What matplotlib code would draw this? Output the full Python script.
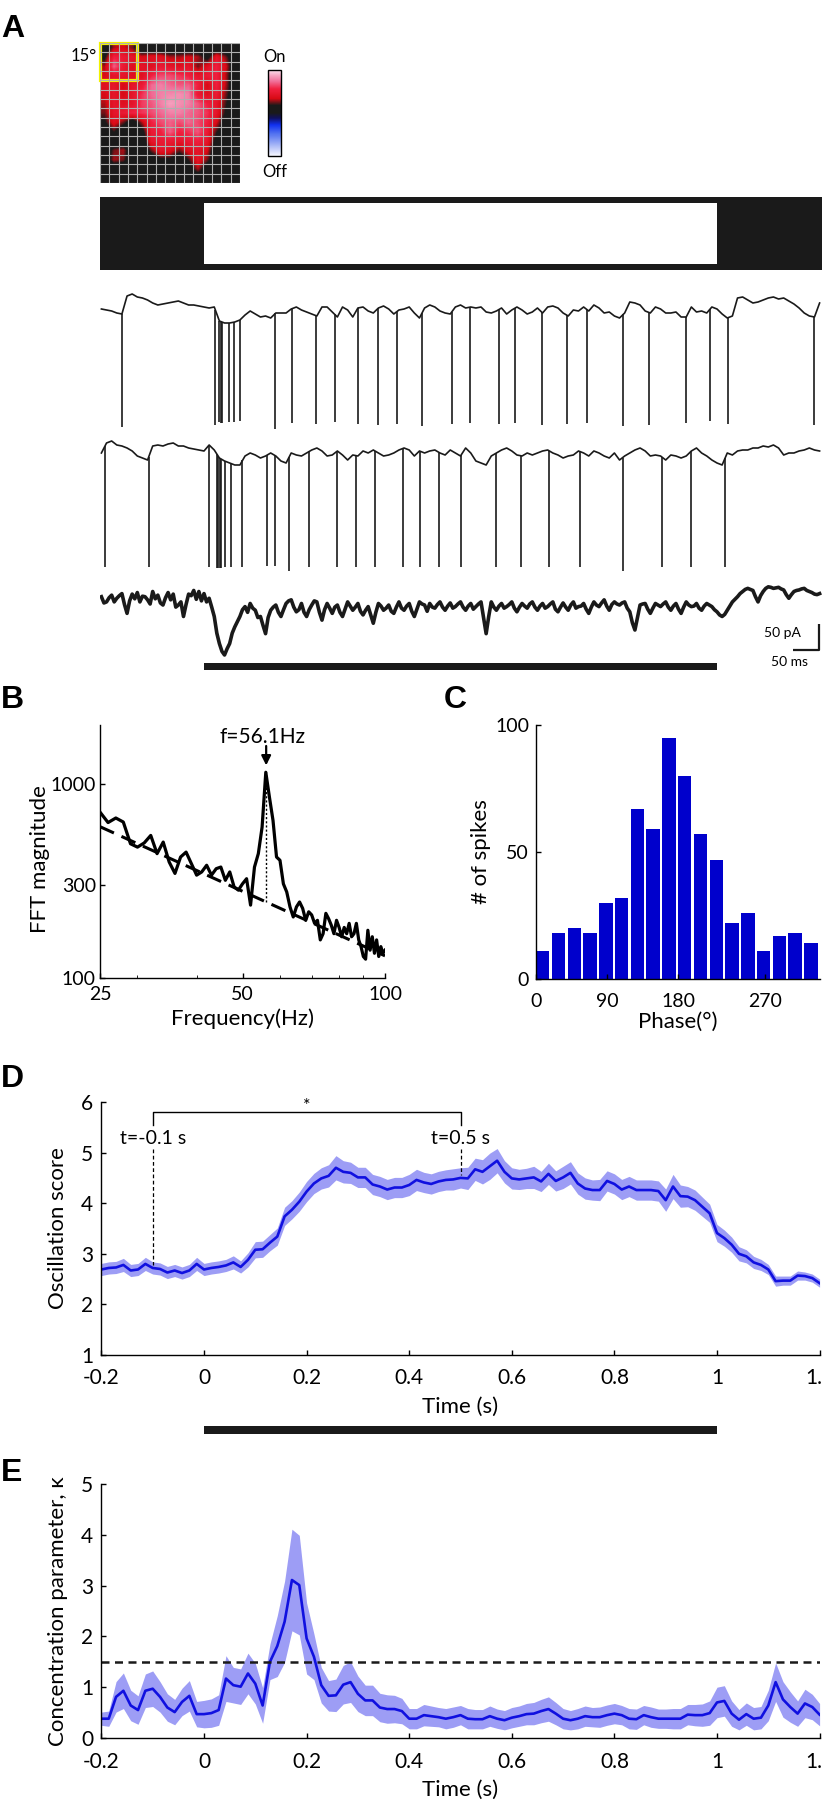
import numpy as np
import matplotlib
matplotlib.use("Agg")
import matplotlib.pyplot as plt
from matplotlib.colors import LinearSegmentedColormap
from matplotlib.patches import Rectangle
from matplotlib.ticker import NullFormatter, NullLocator

plt.rcParams['font.family'] = ['Lato', 'DejaVu Sans']
plt.rcParams['axes.linewidth'] = 1.0
plt.rcParams['xtick.direction'] = 'in'
plt.rcParams['ytick.direction'] = 'in'
plt.rcParams['xtick.major.size'] = 3.5
plt.rcParams['ytick.major.size'] = 3.5
plt.rcParams['xtick.minor.size'] = 2.5
plt.rcParams['xtick.major.width'] = 1.0
plt.rcParams['ytick.major.width'] = 1.0

# ---------------- data ----------------
# receptive field map (15 x 15 grid, 0 = no response, 1 = strongest On)
rf_map = np.array([
    [0, 0.3, 0.35, 0.25, 0, 0, 0, 0, 0, 0, 0, 0, 0, 0, 0],
    [0.15, 0.55, 0.5, 0.45, 0.35, 0.4, 0.4, 0.3, 0.3, 0.35, 0.3, 0.1, 0.45, 0.25, 0],
    [0.3, 0.7, 0.5, 0.4, 0.45, 0.4, 0.5, 0.45, 0.4, 0.45, 0.25, 0.4, 0.55, 0.35, 0],
    [0.35, 0.45, 0.45, 0.4, 0.4, 0.55, 0.65, 0.65, 0.6, 0.55, 0.45, 0.5, 0.55, 0.3, 0],
    [0.4, 0.45, 0.35, 0.45, 0.5, 0.72, 0.78, 0.72, 0.68, 0.7, 0.55, 0.35, 0.55, 0.3, 0],
    [0.35, 0.45, 0.35, 0.45, 0.6, 0.72, 0.78, 0.8, 0.82, 0.78, 0.5, 0.4, 0.5, 0.25, 0],
    [0.3, 0.45, 0.4, 0.45, 0.62, 0.68, 0.78, 0.86, 0.82, 0.78, 0.68, 0.55, 0.45, 0.2, 0],
    [0.25, 0.45, 0.5, 0.55, 0.6, 0.65, 0.72, 0.78, 0.78, 0.72, 0.68, 0.6, 0.45, 0.15, 0],
    [0.15, 0.4, 0.25, 0.05, 0.3, 0.55, 0.65, 0.7, 0.65, 0.72, 0.65, 0.55, 0.35, 0.05, 0],
    [0, 0.2, 0, 0, 0.1, 0.5, 0.55, 0.7, 0.55, 0.6, 0.68, 0.5, 0.2, 0, 0],
    [0, 0, 0, 0, 0, 0.45, 0.5, 0.5, 0.45, 0.5, 0.55, 0.45, 0.1, 0, 0],
    [0, 0.25, 0.3, 0, 0, 0.25, 0.45, 0.4, 0.25, 0.4, 0.45, 0.35, 0, 0, 0],
    [0, 0.3, 0.25, 0, 0, 0, 0.15, 0.15, 0, 0.2, 0.45, 0.25, 0, 0, 0],
    [0, 0, 0, 0, 0, 0, 0, 0, 0, 0.05, 0.3, 0.05, 0, 0, 0],
    [0, 0, 0, 0, 0, 0, 0, 0, 0, 0, 0, 0, 0, 0, 0],
])

# example recordings, sampled every 10 ms from -0.2 to 1.2 s
trace1 = [1, 0, -1, -3, -4, 14, 16, 13, 12, 10,
          7, 5, 6, 7, 8, 9, 7, 5, 5, 4,
          3, 2, 3, -11, -13, -13, -12, -10, -5, -1,
          -4, -7, -6, -8, -3, -3, -3, 1, 3, 0,
          -2, -4, -6, 3, 3, -2, -7, 3, 0, -7,
          2, 3, -1, -3, 2, 4, 1, -4, 0, 1,
          3, -3, -8, 2, 5, 3, -1, -3, -4, 3,
          5, 2, 3, 2, 3, -2, -3, -1, 2, -4,
          0, 3, 0, -4, -2, 2, -3, 3, 4, 2,
          -3, -6, 0, -1, 3, -1, 5, 2, -3, -2,
          -6, -8, -3, 8, 7, 5, -1, -3, 3, 1,
          -3, -3, -2, -7, -7, 3, -2, -1, -3, 3,
          1, -4, -8, -6, 12, 13, 10, 7, 8, 10,
          12, 13, 11, 12, 9, 6, 2, -3, -6, -7, 7]
trace1_spikes = [-0.160, 0.022, 0.030, 0.033, 0.036, 0.048, 0.059, 0.070, 0.139, 0.171,
                 0.218, 0.255, 0.300, 0.339, 0.376, 0.425, 0.483, 0.518, 0.575, 0.607,
                 0.658, 0.708, 0.747, 0.817, 0.868, 0.939, 0.986, 1.022, 1.189]
trace1_depth = [-117, -115, -112, -113, -113, -112, -112, -111, -119, -113,
                -114, -112, -114, -115, -114, -116, -114, -113, -114, -113,
                -115, -114, -113, -116, -115, -113, -111, -114, -115]

trace2 = [0, 10, 12, 8, 7, 5, 2, -3, -5, -7,
          7, 8, 7, 9, 10, 7, 7, 5, 4, 3,
          2, 8, 3, -5, -8, -10, -12, -12, -3, 0,
          -2, -5, -3, 0, -3, -8, -10, 0, -2, -3,
          0, 3, 5, 2, -3, -2, 2, -2, -7, -2,
          -3, 2, 0, 3, 0, -3, -2, 0, 3, 5,
          3, -3, 2, 0, 2, 3, 0, -2, 3, 0,
          -3, 5, 0, -8, -10, -12, -3, 0, 3, 5,
          2, -2, -3, 0, -2, 0, 2, 3, 0, -2,
          -5, -3, -2, 2, 0, -3, 2, 0, -3, -5,
          0, -7, -3, 0, 3, 5, 2, -3, -2, -3,
          -7, -2, -3, -5, -3, 2, 5, 0, -3, -7,
          -10, -12, 0, -2, 2, 3, 3, 5, 5, 7,
          6, 8, 5, -2, 0, 0, 2, 3, 5, 3, 2]
trace2_spikes = [-0.193, -0.108, 0.010, 0.025, 0.028, 0.031, 0.034, 0.040, 0.053, 0.075,
                 0.122, 0.139, 0.166, 0.205, 0.260, 0.296, 0.333, 0.387, 0.421, 0.459,
                 0.501, 0.569, 0.617, 0.672, 0.732, 0.816, 0.892, 0.950, 1.016]
trace2_depth = [-114, -114, -114, -115, -115, -115, -115, -114, -114, -114,
                -113, -113, -118, -114, -114, -114, -114, -114, -114, -114,
                -114, -114, -114, -114, -114, -118, -114, -114, -114]

# membrane current (pA): samples on the 10 ms grid and the samples 5 ms in between
current_pA = [0, -10, 3, -3, 6, -32, 5, 8, 1, -6,
              10, 3, -16, 8, 5, -16, -38, 5, 12, 10,
              6, -3, -38, -90, -112, -90, -58, -38, -19, -13,
              -26, -38, -71, -26, -16, -38, -13, -6, -29, -13,
              -38, -16, -10, -45, -13, -32, -16, -38, -10, -26,
              -13, -35, -19, -51, -13, -26, -16, -32, -10, -26,
              -13, -38, -10, -16, -13, -22, -10, -26, -12, -19,
              -10, -26, -13, -19, -10, -71, -10, -26, -13, -19,
              -10, -29, -13, -22, -10, -26, -13, -19, -10, -29,
              -12, -26, -10, -19, -13, -32, -10, -19, -6, -26,
              -10, -16, -10, -29, -64, -16, -13, -32, -13, -19,
              -10, -26, -13, -32, -10, -19, -13, -26, -13, -19,
              -29, -38, -26, -10, 0, 10, 16, 12, -10, 10,
              19, 16, 18, 13, -3, 10, 13, 16, 10, 5, 6]
current_mid_pA = [-12, -2, -10, 2, -15, -8, -4, -10, 0, -14,
                  -4, -12, -2, -6, -20, -10, -15, 2, -5, -8,
                  -10, -20, -70, -105, -100, -70, -48, -25, -30, -22,
                  -40, -55, -40, -20, -30, -25, -8, -20, -25, -30,
                  -25, -8, -30, -25, -22, -20, -30, -24, -18, -20,
                  -28, -26, -35, -30, -18, -22, -28, -20, -22, -18,
                  -28, -24, -14, -28, -20, -15, -20, -18, -22, -14,
                  -20, -18, -24, -14, -40, -38, -20, -18, -22, -15,
                  -22, -20, -18, -14, -20, -18, -22, -14, -24, -20,
                  -20, -16, -22, -18, -24, -20, -16, -12, -18, -15,
                  -14, -12, -22, -50, -40, -14, -24, -22, -16, -14,
                  -20, -18, -24, -20, -16, -18, -22, -18, -16, -25,
                  -35, -34, -18, -5, 6, 14, 14, 0, 2, 16,
                  18, 17, 15, 4, 4, 12, 15, 12, 8, 4]

# FFT of the current trace
fft_freq = np.arange(25, 101)
fft_mag = [713, 630, 665, 634, 490, 471, 495, 541, 436, 500,
           395, 345, 419, 444, 387, 338, 351, 380, 338, 365,
           372, 318, 351, 294, 283, 305, 324, 237, 372, 436,
           597, 1143, 851, 646, 419, 403, 305, 277, 232, 206,
           232, 246, 228, 198, 219, 211, 191, 198, 157, 169,
           215, 202, 187, 169, 198, 182, 163, 182, 169, 191,
           163, 169, 191, 157, 145, 129, 125, 176, 139, 163,
           134, 157, 129, 145, 134, 139]
fit_freq = [25, 100]
fit_mag = [600, 130]
peak_freq = 56.1

# spike phase histogram
phase_bins = np.arange(0, 360, 20)
spike_counts = [11, 18, 20, 18, 30, 32, 67, 59, 95, 80, 57, 47, 22, 26, 11, 17, 18, 14]

# oscillation score (mean +- sem)
osc_mean = [2.69, 2.72, 2.73, 2.78, 2.67, 2.69, 2.80, 2.72, 2.70, 2.63,
            2.67, 2.62, 2.67, 2.80, 2.69, 2.72, 2.74, 2.77, 2.83, 2.74,
            2.88, 3.08, 3.09, 3.22, 3.34, 3.74, 3.87, 4.03, 4.23, 4.39,
            4.49, 4.54, 4.70, 4.62, 4.60, 4.51, 4.51, 4.37, 4.33, 4.27,
            4.31, 4.31, 4.36, 4.46, 4.41, 4.38, 4.43, 4.46, 4.47, 4.50,
            4.49, 4.67, 4.62, 4.73, 4.84, 4.62, 4.49, 4.47, 4.49, 4.51,
            4.43, 4.58, 4.44, 4.51, 4.60, 4.39, 4.29, 4.26, 4.26, 4.44,
            4.38, 4.27, 4.33, 4.26, 4.26, 4.26, 4.24, 4.06, 4.33, 4.14,
            4.13, 4.06, 3.93, 3.80, 3.41, 3.31, 3.18, 3.00, 2.95, 2.83,
            2.78, 2.69, 2.46, 2.47, 2.47, 2.57, 2.56, 2.52, 2.42]
osc_sem = [0.12, 0.12, 0.12, 0.13, 0.12, 0.12, 0.13, 0.12, 0.12, 0.12,
           0.12, 0.12, 0.12, 0.13, 0.12, 0.12, 0.12, 0.12, 0.13, 0.12,
           0.14, 0.16, 0.16, 0.16, 0.17, 0.18, 0.18, 0.19, 0.2, 0.2,
           0.21, 0.22, 0.24, 0.22, 0.21, 0.2, 0.2, 0.2, 0.2, 0.2,
           0.2, 0.2, 0.21, 0.21, 0.2, 0.2, 0.2, 0.2, 0.21, 0.2,
           0.22, 0.22, 0.24, 0.26, 0.24, 0.22, 0.21, 0.2, 0.2, 0.22,
           0.2, 0.21, 0.2, 0.22, 0.22, 0.21, 0.21, 0.2, 0.21, 0.2,
           0.2, 0.2, 0.2, 0.2, 0.2, 0.2, 0.2, 0.22, 0.24, 0.22,
           0.2, 0.2, 0.19, 0.18, 0.17, 0.16, 0.15, 0.14, 0.13, 0.12,
           0.11, 0.1, 0.1, 0.09, 0.09, 0.09, 0.08, 0.08, 0.08]

# concentration parameter kappa (mean +- sem)
kappa_mean = [0.38, 0.38, 0.81, 0.93, 0.64, 0.55, 0.93, 0.97, 0.81, 0.60,
              0.51, 0.71, 0.83, 0.47, 0.47, 0.49, 0.55, 1.17, 1.04, 1.01,
              1.27, 1.07, 0.64, 1.50, 1.81, 2.29, 3.11, 3.01, 1.96, 1.60,
              1.04, 0.83, 0.84, 1.05, 1.10, 0.87, 0.74, 0.74, 0.60, 0.57,
              0.57, 0.53, 0.38, 0.38, 0.45, 0.43, 0.41, 0.38, 0.41, 0.45,
              0.38, 0.37, 0.37, 0.43, 0.38, 0.35, 0.40, 0.43, 0.47, 0.48,
              0.53, 0.57, 0.48, 0.38, 0.35, 0.38, 0.43, 0.41, 0.41, 0.45,
              0.48, 0.45, 0.38, 0.37, 0.45, 0.41, 0.38, 0.38, 0.38, 0.38,
              0.46, 0.45, 0.45, 0.49, 0.70, 0.73, 0.48, 0.36, 0.47, 0.38,
              0.40, 0.64, 1.10, 0.76, 0.61, 0.48, 0.68, 0.61, 0.46]
kappa_sem = [0.13, 0.15, 0.3, 0.35, 0.3, 0.28, 0.33, 0.35, 0.3, 0.27,
             0.25, 0.27, 0.3, 0.25, 0.27, 0.28, 0.3, 0.45, 0.35, 0.35,
             0.4, 0.4, 0.35, 0.35, 0.6, 0.8, 1.0, 0.98, 0.7, 0.45,
             0.35, 0.3, 0.32, 0.38, 0.4, 0.35, 0.3, 0.3, 0.28, 0.28,
             0.27, 0.25, 0.2, 0.2, 0.21, 0.2, 0.19, 0.2, 0.2, 0.19,
             0.2, 0.19, 0.19, 0.2, 0.19, 0.19, 0.2, 0.2, 0.21, 0.22,
             0.23, 0.24, 0.22, 0.2, 0.19, 0.2, 0.2, 0.19, 0.2, 0.2,
             0.2, 0.19, 0.2, 0.2, 0.19, 0.2, 0.19, 0.19, 0.2, 0.2,
             0.2, 0.21, 0.22, 0.24, 0.3, 0.3, 0.25, 0.2, 0.22, 0.22,
             0.22, 0.3, 0.38, 0.35, 0.3, 0.25, 0.28, 0.25, 0.22]
kappa_threshold = 1.5

# ---------------- layout helpers ----------------
W, H = 822, 1801


def box(x0, y0, x1, y1):
    return [x0 / W, 1 - y1 / H, (x1 - x0) / W, (y1 - y0) / H]


BLACK = '#1a1a1a'
BLUE = '#1010e0'
BAND = '#9d9df5'
trace_xlim = ((100 - 204) / 513, (822 - 204) / 513)

fig = plt.figure(figsize=(W / 100, H / 100), dpi=100)

# ---------------- panel A ----------------
cmap = LinearSegmentedColormap.from_list('onoff', [
    (0.0, '#f8f8ff'), (0.1, '#b8c4f8'), (0.26, '#5070f0'), (0.36, '#1030f0'),
    (0.44, '#101060'), (0.5, '#1a1a1a'), (0.59, '#1a1a1a'), (0.67, '#d80a14'),
    (0.78, '#f02040'), (0.87, '#f0709a'), (0.94, '#f6a8c4'), (1.0, '#fce2ee')])

ax_rf = fig.add_axes(box(100, 43, 240, 183))
n = rf_map.shape[0]
im = ax_rf.imshow(rf_map, cmap=cmap, vmin=-1, vmax=1, interpolation='bilinear',
                  interpolation_stage='data', extent=(0, n, n, 0))
for k in range(n + 1):
    ax_rf.axhline(k, color='#b0b0b0', lw=0.8)
    ax_rf.axvline(k, color='#b0b0b0', lw=0.8)
ax_rf.add_patch(Rectangle((0, 0), 4, 4, fill=False, ec='#f2f200', lw=2.3, clip_on=False))
ax_rf.set_xlim(0, n)
ax_rf.set_ylim(n, 0)
ax_rf.axis('off')
ax_rf.text(-0.35, 1.4, '15°', ha='right', va='center', fontsize=12)

cax = fig.add_axes(box(268, 70, 281, 156))
cb = fig.colorbar(im, cax=cax)
cb.set_ticks([])
cb.outline.set_linewidth(1.0)
cax.text(0.5, 1 + 13 / 86, 'On', transform=cax.transAxes, ha='center', va='center', fontsize=12)
cax.text(0.5, -16 / 86, 'Off', transform=cax.transAxes, ha='center', va='center', fontsize=12)

# stimulus bar (dark - bright - dark)
ax_stim = fig.add_axes(box(100, 197, 822, 270))
ax_stim.axvspan(trace_xlim[0], trace_xlim[1], color=BLACK, lw=0)
ax_stim.axvspan(0, 1, ymin=0.08, ymax=0.92, color='white', lw=0)
ax_stim.set_xlim(trace_xlim)
ax_stim.set_ylim(0, 1)
ax_stim.axis('off')

t_trace = np.linspace(-0.2, 1.2, len(trace1))

ax_t1 = fig.add_axes(box(100, 285, 822, 432))
ax_t1.plot(t_trace, trace1, color=BLACK, lw=1.2)
ax_t1.vlines(trace1_spikes, np.interp(trace1_spikes, t_trace, trace1), trace1_depth,
             color=BLACK, lw=1.2)
ax_t1.set_xlim(trace_xlim)
ax_t1.set_ylim(-122, 25)
ax_t1.axis('off')

ax_t2 = fig.add_axes(box(100, 432, 822, 575))
ax_t2.plot(t_trace, trace2, color=BLACK, lw=1.2)
ax_t2.vlines(trace2_spikes, np.interp(trace2_spikes, t_trace, trace2), trace2_depth,
             color=BLACK, lw=1.2)
ax_t2.set_xlim(trace_xlim)
ax_t2.set_ylim(-122, 21)
ax_t2.axis('off')

# interleave the 10 ms samples with the in-between samples
current_all = np.empty(len(current_pA) + len(current_mid_pA))
current_all[0::2] = current_pA
current_all[1::2] = current_mid_pA
ax_t3 = fig.add_axes(box(100, 575, 822, 680))
ax_t3.plot(np.linspace(-0.2, 1.2, len(current_all)), current_all, color=BLACK, lw=2.6)
# scale bar: 50 pA / 50 ms
ax_t3.plot([1.149, 1.199, 1.199], [-102.5, -102.5, -52.5], color=BLACK, lw=1.6,
           solid_capstyle='butt')
ax_t3.text(1.163, -70, '50 pA', ha='right', va='center', fontsize=10)
ax_t3.text(1.105, -126, '50 ms', ha='left', va='center', fontsize=10)
ax_t3.set_xlim(trace_xlim)
ax_t3.set_ylim(-160, 41.7)
ax_t3.axis('off')

ax_barA = fig.add_axes(box(100, 663, 822, 670))
ax_barA.axvspan(0, 1, color=BLACK, lw=0)
ax_barA.set_xlim(trace_xlim)
ax_barA.axis('off')

# ---------------- panel B ----------------
ax_b = fig.add_axes(box(100, 725, 385, 978))
ax_b.plot(fft_freq, fft_mag, color='black', lw=2.3)
ax_b.plot(fit_freq, fit_mag, color='black', lw=2.2, dashes=(5, 2.7))
slope = np.log(fit_mag[1] / fit_mag[0]) / np.log(fit_freq[1] / fit_freq[0])
fit_at_peak = fit_mag[0] * (peak_freq / fit_freq[0]) ** slope
ax_b.plot([peak_freq, peak_freq], [fit_at_peak, max(fft_mag)], color='black', lw=1.0,
          ls=(0, (1.5, 1.5)))
ax_b.annotate('', xy=(peak_freq, 1240), xytext=(peak_freq, 1560),
              arrowprops=dict(arrowstyle='-|>', color='black', lw=1.6, mutation_scale=14,
                              shrinkA=0, shrinkB=0))
ax_b.text(55, 1740, 'f=%.1fHz' % peak_freq, ha='center', va='center', fontsize=15)
ax_b.set_xscale('log')
ax_b.set_yscale('log')
ax_b.set_xlim(25, 100)
ax_b.set_ylim(100, 2000)
ax_b.set_xticks([25, 50, 100])
ax_b.set_xticklabels(['25', '50', '100'])
ax_b.set_xticks([30, 40, 60, 70, 80, 90], minor=True)
ax_b.xaxis.set_minor_formatter(NullFormatter())
ax_b.set_yticks([100, 300, 1000])
ax_b.set_yticklabels(['100', '300', '1000'])
ax_b.yaxis.set_minor_locator(NullLocator())
ax_b.tick_params(axis='both', labelsize=14)
ax_b.tick_params(axis='x', pad=6)
ax_b.tick_params(axis='y', pad=3)
ax_b.set_xlabel('Frequency(Hz)', fontsize=16)
ax_b.set_ylabel('FFT magnitude', fontsize=16)
ax_b.xaxis.set_label_coords(0.5, -0.12)
ax_b.yaxis.set_label_coords(-0.175, 0.47)
for s in ['top', 'right']:
    ax_b.spines[s].set_visible(False)

# ---------------- panel C ----------------
ax_c = fig.add_axes(box(536, 725, 820, 979))
ax_c.bar(phase_bins, spike_counts, width=17, align='edge', color='#0000cc', lw=0)
ax_c.set_xlim(0, 360)
ax_c.set_ylim(0, 100)
ax_c.set_yticks([0, 50, 100])
ax_c.set_xticks([0, 90, 180, 290])
ax_c.set_xticklabels(['0', '90', '180', '270'])
ax_c.tick_params(axis='both', labelsize=14)
ax_c.tick_params(axis='x', pad=10)
ax_c.tick_params(axis='y', pad=5)
ax_c.set_xlabel('Phase(°)', fontsize=16)
ax_c.set_ylabel('# of spikes', fontsize=16)
ax_c.xaxis.set_label_coords(0.5, -0.13)
ax_c.yaxis.set_label_coords(-0.158, 0.5)
for s in ['top', 'right']:
    ax_c.spines[s].set_visible(False)

# ---------------- panel D ----------------
t_osc = np.linspace(-0.2, 1.2, len(osc_mean))
om = np.array(osc_mean)
osd = np.array(osc_sem)
ax_d = fig.add_axes(box(101.4, 1102, 819.6, 1355))
ax_d.fill_between(t_osc, om - osd, om + osd, color=BAND, lw=0)
ax_d.plot(t_osc, om, color=BLUE, lw=1.9)
ax_d.plot([-0.1, -0.1, 0.5, 0.5], [5.54, 5.8, 5.8, 5.54], color='black', lw=1.0)
ax_d.text(0.2, 5.92, '*', ha='center', va='center', fontsize=13)
ax_d.text(-0.1, 5.27, 't=-0.1 s', ha='center', va='center', fontsize=14)
ax_d.text(0.5, 5.27, 't=0.5 s', ha='center', va='center', fontsize=14)
ax_d.plot([-0.1, -0.1], [5.08, 2.78], color='black', lw=0.9, ls=(0, (3, 2)))
ax_d.plot([0.5, 0.5], [5.08, 4.56], color='black', lw=0.9, ls=(0, (3, 2)))
ax_d.set_xlim(-0.2, 1.2)
ax_d.set_ylim(1, 6)
ax_d.set_yticks([1, 2, 3, 4, 5, 6])
ax_d.set_xticks([-0.2, 0, 0.2, 0.4, 0.6, 0.8, 1, 1.2])
ax_d.set_xticklabels(['-0.2', '0', '0.2', '0.4', '0.6', '0.8', '1', '1.2'])
ax_d.tick_params(axis='both', labelsize=15)
ax_d.tick_params(axis='x', pad=9)
ax_d.tick_params(axis='y', pad=6)
ax_d.set_xlabel('Time (s)', fontsize=16)
ax_d.set_ylabel('Oscillation score', fontsize=16)
ax_d.xaxis.set_label_coords(0.5, -0.165)
ax_d.yaxis.set_label_coords(-0.046, 0.5)
for s in ['top', 'right']:
    ax_d.spines[s].set_visible(False)

ax_dbar = fig.add_axes(box(101.4, 1426, 819.6, 1434))
ax_dbar.axvspan(0, 1, color=BLACK, lw=0)
ax_dbar.set_xlim(-0.2, 1.2)
ax_dbar.axis('off')

# ---------------- panel E ----------------
t_k = np.linspace(-0.2, 1.2, len(kappa_mean))
km = np.array(kappa_mean)
ks = np.array(kappa_sem)
ax_e = fig.add_axes(box(101.4, 1484, 819.6, 1738))
ax_e.fill_between(t_k, np.clip(km - ks, 0.15, None), km + ks, color=BAND, lw=0)
ax_e.plot(t_k, km, color=BLUE, lw=1.9)
ax_e.axhline(kappa_threshold, color=BLACK, lw=1.8, dashes=(3.2, 2.2))
ax_e.set_xlim(-0.2, 1.2)
ax_e.set_ylim(0, 5)
ax_e.set_yticks([0, 1, 2, 3, 4, 5])
ax_e.set_xticks([-0.2, 0, 0.2, 0.4, 0.6, 0.8, 1, 1.2])
ax_e.set_xticklabels(['-0.2', '0', '0.2', '0.4', '0.6', '0.8', '1', '1.2'])
ax_e.tick_params(axis='both', labelsize=15)
ax_e.tick_params(axis='x', pad=10)
ax_e.tick_params(axis='y', pad=6)
ax_e.set_xlabel('Time (s)', fontsize=16)
ax_e.set_ylabel('Concentration parameter, κ', fontsize=16)
ax_e.xaxis.set_label_coords(0.5, -0.165)
ax_e.yaxis.set_label_coords(-0.046, 0.5)
for s in ['top', 'right']:
    ax_e.spines[s].set_visible(False)

# ---------------- panel letters ----------------
for letter, x, y in [('A', 1, 37), ('B', 1, 708), ('C', 444, 708), ('D', 1, 1087), ('E', 1, 1481)]:
    fig.text(x / W, 1 - y / H, letter, fontsize=23, fontweight='bold',
             family=['Liberation Sans', 'DejaVu Sans'], ha='left', va='baseline')

fig.savefig('out.png', dpi=100)
